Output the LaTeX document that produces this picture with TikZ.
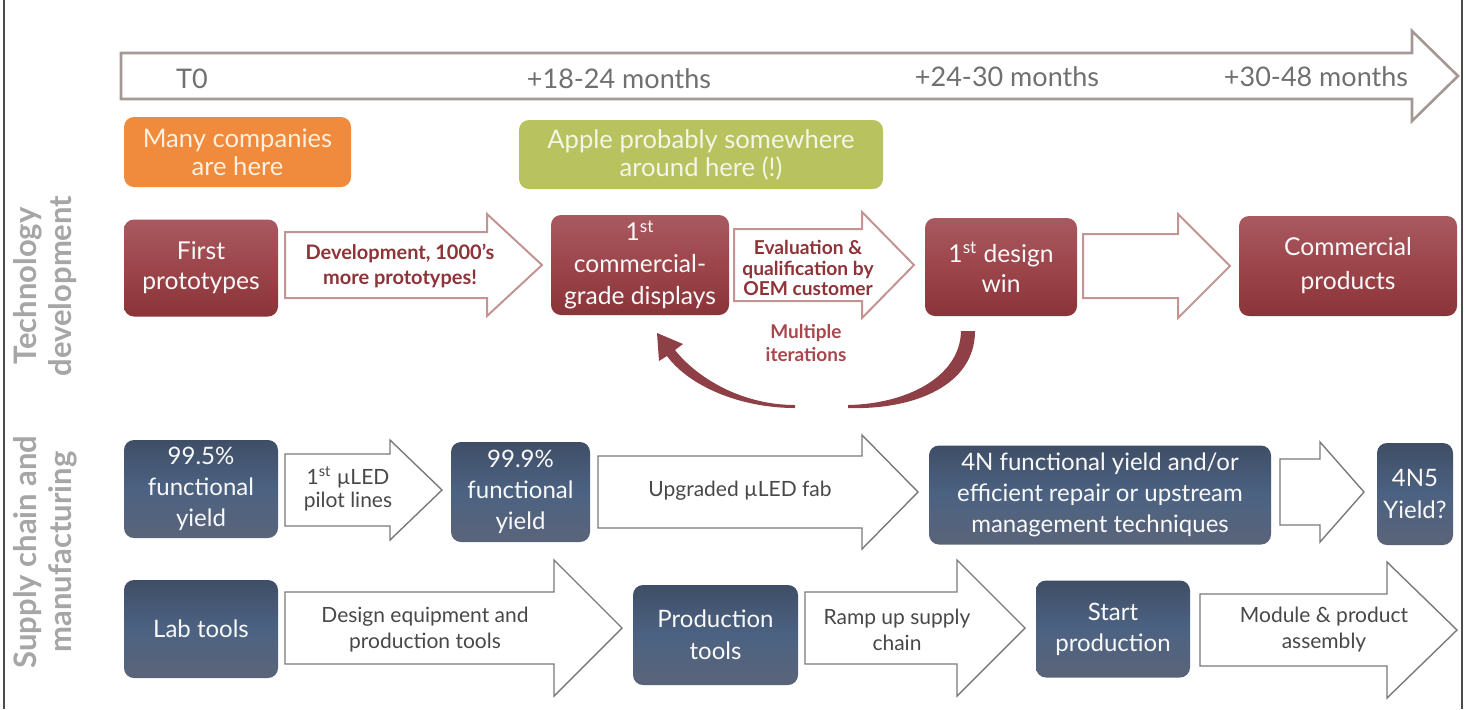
\documentclass[tikz,border=0pt]{standalone}
\usepackage{fontspec}
\setmainfont{Lato}
\definecolor{rtop}{HTML}{A85A60}
\definecolor{rmid}{HTML}{9C454B}
\definecolor{rbot}{HTML}{8A343A}
\definecolor{btop}{HTML}{3F4E66}
\definecolor{bmid}{HTML}{4C6282}
\definecolor{bbot}{HTML}{5A6479}
\definecolor{orangec}{HTML}{F08A3C}
\definecolor{greenc}{HTML}{B8C25F}
\definecolor{tlline}{HTML}{A39894}
\definecolor{techline}{HTML}{C49494}
\definecolor{supline}{HTML}{7A7A7A}
\definecolor{techtext}{HTML}{8E3338}
\definecolor{iterc}{HTML}{8E4046}
\definecolor{itertext}{HTML}{A8474D}
\definecolor{sidegray}{HTML}{A6A6A6}
\definecolor{tlgray}{HTML}{707070}
\definecolor{supgray}{HTML}{484848}
\newcommand{\blockarr}[7][]{%
  \draw[#1] (#2,{#5-#6}) -- (#3,{#5-#6}) -- (#3,{#5-#7}) -- (#4,#5) -- (#3,{#5+#7}) -- (#3,{#5+#6}) -- (#2,{#5+#6}) -- cycle;}
\tikzset{
  boxbase/.style={rounded corners=5pt, draw=none, inner sep=0pt, align=center, text=white!95!gray},
  redbox/.style={boxbase, top color=rtop, bottom color=rbot, middle color=rmid, font=\fontsize{12.3}{15}\selectfont},
  bluebox/.style={boxbase, top color=btop, bottom color=bbot, middle color=bmid, font=\fontsize{12}{15.5}\selectfont},
  notebox/.style={boxbase, font=\fontsize{12.8}{14}\selectfont},
  tlarrow/.style={draw=tlline, line width=1.3pt, fill=white, line join=miter},
  techarrow/.style={draw=techline, line width=1pt, fill=white},
  suparrow/.style={draw=supline, line width=0.7pt, fill=white},
  tltext/.style={text=tlgray, font=\fontsize{13.5}{15}\selectfont, inner sep=0pt},
  techtxt/.style={text=techtext, font=\bfseries\fontsize{10}{12.5}\selectfont, align=center, inner sep=0pt},
  evaltxt/.style={text=techtext, font=\bfseries\fontsize{9.6}{10.2}\selectfont, align=center, inner sep=0pt},
  suptxt/.style={text=supgray, font=\fontsize{10.5}{13}\selectfont, align=center, inner sep=0pt},
  sidelabel/.style={text=sidegray, font=\bfseries\fontsize{15.5}{17.5}\selectfont, align=center, rotate=90, inner sep=0pt}
}
\begin{document}
\begin{tikzpicture}[x=0.5pt,y=-0.5pt]
\useasboundingbox (0,0) rectangle (1466,709);
\fill[white] (0,0) rectangle (1466,709);
% frame sides
\draw[black!70, line width=0.6pt] (4,0) -- (4,709);
\draw[black!70, line width=0.6pt] (1462,0) -- (1462,709);

% timeline
\blockarr[tlarrow]{121}{1412}{1458}{76}{23}{45}
\node[tltext] (t0) at (192,79) {T0};
\node[tltext] (t1) at (619,79) {+18-24 months};
\node[tltext] (t2) at (1007,77) {+24-30 months};
\node[tltext] (t3) at (1316,77) {+30-48 months};

% notes
\node[notebox, fill=orangec, minimum width=113.5pt, minimum height=35pt, text=white!88!orange] (many) at (237.5,152) {Many companies\\are here};
\node[notebox, fill=greenc, minimum width=182pt, minimum height=34.5pt, text=white!85!greenc] (apple) at (701,154.5) {Apple probably somewhere\\around here (!)};

% side labels
\node[sidelabel] (techlab) at (45,286) {Technology\\development};
\node[sidelabel] (suplab) at (45,552) {Supply chain and\\manufacturing};

% technology row arrows
\blockarr[techarrow]{285}{487}{542}{265}{33}{51}
\blockarr[techarrow]{734}{862}{914}{265}{36}{53}
\blockarr[techarrow]{1083}{1178}{1230}{266}{32}{52}
\node[techtxt] (devtxt) at (400,266) {Development, 1000's\\more prototypes!};
\node[evaltxt] (evaltxt) at (808,268) {Evaluation \&\\qualification by\\OEM customer};

% technology row boxes
\node[redbox, minimum width=77pt, minimum height=48.5pt] (proto) at (201,268) {First\\prototypes};
\node[redbox, minimum width=89pt, minimum height=50pt, font=\fontsize{12.3}{16}\selectfont] (disp) at (640,265) {1\textsuperscript{st}\\commercial-\\grade displays};
\node[redbox, minimum width=76pt, minimum height=49pt] (win) at (1001,267) {1\textsuperscript{st} design\\win};
\node[redbox, minimum width=109pt, minimum height=50pt, font=\fontsize{12.3}{17}\selectfont] (prods) at (1348,266) {Commercial\\products};

% iterations loop
\node[techtxt, text=itertext, font=\bfseries\fontsize{9.5}{11.5}\selectfont] (iter) at (806,343) {Multiple\\iterations};
\fill[iterc] (795,408) .. controls (740,408) and (689,386) .. (667,356)
  -- (659,361) -- (657,333) -- (683,344) -- (675,350)
  .. controls (697,378) and (742,405) .. (795,405) -- cycle;
\fill[iterc] (961,331) -- (975,331) .. controls (975,385) and (915,410) .. (848,408)
  -- (848,405) .. controls (905,404) and (960,378) .. (961,331) -- cycle;

% supply row 1 arrows
\blockarr[suparrow]{285}{390}{442}{490}{36}{50}
\blockarr[suparrow]{598}{862}{918}{492}{36}{57}
\blockarr[suparrow]{1280}{1320}{1364}{492}{33}{50}
\node[suptxt, font=\fontsize{10.5}{11.5}\selectfont] (pilot) at (348,489) {1\textsuperscript{st} µLED\\pilot lines};
\node[suptxt] (upg) at (740,491) {Upgraded µLED fab};

% supply row 1 boxes
\node[bluebox, minimum width=77pt, minimum height=49pt] (y995) at (201,489) {99.5\%\\functional\\yield};
\node[bluebox, minimum width=69.5pt, minimum height=50pt] (y999) at (520.5,492) {99.9\%\\functional\\yield};
\node[bluebox, minimum width=171pt, minimum height=49.5pt] (y4n) at (1100,495) {4N functional yield and/or\\efficient repair or upstream\\management techniques};
\node[bluebox, minimum width=38pt, minimum height=51pt, font=\fontsize{12}{16}\selectfont] (y4n5) at (1415,494) {4N5\\Yield?};

% supply row 2 arrows
\blockarr[suparrow]{285}{554}{622}{628}{36}{68}
\blockarr[suparrow]{805}{957}{1025}{628}{36}{68}
\blockarr[suparrow]{1200}{1387}{1457}{630}{36}{68}
\node[suptxt] (design) at (425,630) {Design equipment and\\production tools};
\node[suptxt] (ramp) at (897,630) {Ramp up supply\\chain};
\node[suptxt] (module) at (1324,630) {Module \& product\\assembly};

% supply row 2 boxes
\node[bluebox, minimum width=77pt, minimum height=49pt] (lab) at (201,629) {Lab tools};
\node[bluebox, minimum width=82.5pt, minimum height=50pt, font=\fontsize{12}{16}\selectfont] (prodtools) at (715.5,635) {Production\\tools};
\node[bluebox, minimum width=77pt, minimum height=48.5pt] (start) at (1113,629) {Start\\production};
\end{tikzpicture}
\end{document}
